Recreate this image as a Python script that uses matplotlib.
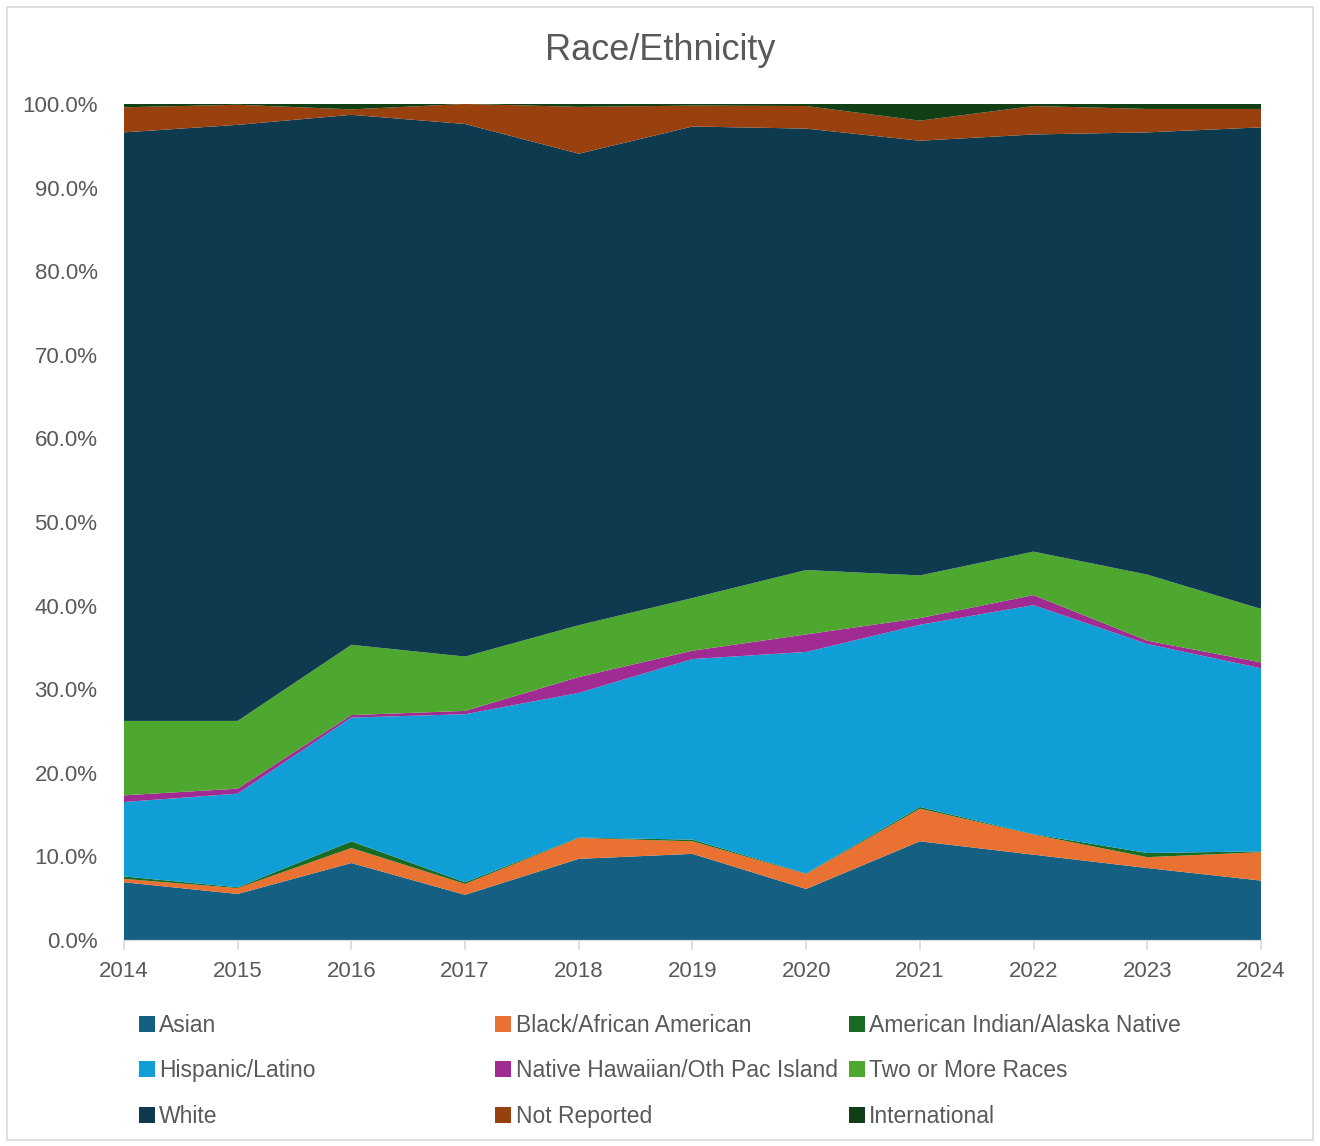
import matplotlib.pyplot as plt
from matplotlib.patches import Patch, Rectangle
from matplotlib.ticker import PercentFormatter

plt.rcParams['font.family'] = ['Liberation Sans', 'DejaVu Sans']

# Share of students by race/ethnicity (percent)
years = [2014, 2015, 2016, 2017, 2018, 2019, 2020, 2021, 2022, 2023, 2024]
asian = [6.9, 5.5, 9.2, 5.4, 9.7, 10.3, 6.1, 11.8, 10.2, 8.6, 7.1]
black = [0.4, 0.7, 1.8, 1.3, 2.5, 1.5, 1.8, 3.9, 2.4, 1.3, 3.4]
aian = [0.3, 0.1, 0.8, 0.2, 0.05, 0.2, 0.05, 0.2, 0.05, 0.5, 0.1]
hispanic = [8.9, 11.2, 14.8, 20.1, 17.3, 21.6, 26.5, 21.8, 27.4, 25.0, 21.9]
nhpi = [0.8, 0.6, 0.3, 0.4, 1.9, 1.0, 2.1, 0.8, 1.2, 0.4, 0.7]
two_more = [8.9, 8.1, 8.4, 6.5, 6.2, 6.3, 7.7, 5.1, 5.2, 7.9, 6.4]
white = [70.4, 71.3, 63.4, 63.7, 56.4, 56.4, 52.8, 52.0, 49.9, 52.9, 57.6]
not_reported = [3.0, 2.4, 0.65, 2.4, 5.6, 2.5, 2.7, 2.4, 3.4, 2.8, 2.2]
international = [0.4, 0.1, 0.65, 0.0, 0.4, 0.2, 0.3, 2.0, 0.3, 0.6, 0.6]

labels = ["Asian", "Black/African American", "American Indian/Alaska Native",
          "Hispanic/Latino", "Native Hawaiian/Oth Pac Island", "Two or More Races",
          "White", "Not Reported", "International"]
colors = ["#156082", "#E97132", "#196B24", "#0F9ED5", "#A02B93", "#4EA72E",
          "#0E3A4F", "#98410F", "#103F15"]
series = [asian, black, aian, hispanic, nhpi, two_more, white, not_reported, international]
series = [[v / 100 for v in s] for s in series]

fig = plt.figure(figsize=(13.2, 11.46), dpi=100)
fig.patches.append(Rectangle((0.005, 0.005), 0.99, 0.989, transform=fig.transFigure,
                             fill=False, edgecolor="#d9d9d9", linewidth=1.2))
ax = fig.add_axes([0.0939, 0.1798, 0.8614, 0.7295])

ax.stackplot(years, *series, colors=colors, labels=labels, linewidth=0)

ax.set_xlim(2014, 2024)
ax.set_ylim(0, 1)
ax.set_xticks(years)
ax.set_yticks([i / 10 for i in range(11)])
ax.yaxis.set_major_formatter(PercentFormatter(1, decimals=1))
for s in ["top", "right", "left"]:
    ax.spines[s].set_visible(False)
ax.spines["bottom"].set_color("#d9d9d9")
ax.tick_params(axis="x", colors="#d9d9d9", length=7, width=1.2, labelcolor="#595959",
               labelsize=16, pad=8)
ax.tick_params(axis="y", length=0, labelcolor="#595959", labelsize=16, pad=19)

fig.text(0.5, 0.956, "Race/Ethnicity", ha="center", va="center", fontsize=26, color="#595959")

# legend: three columns placed by hand, filled row by row
col_x = [0.098, 0.368, 0.636]
for c in range(3):
    idx = [c, c + 3, c + 6]
    handles = [Patch(facecolor=colors[i], edgecolor="none") for i in idx]
    leg = fig.legend(handles, [labels[i] for i in idx], loc="upper left",
                     bbox_to_anchor=(col_x[c], 0.1235), frameon=False, fontsize=16.5,
                     labelcolor="#595959", handlelength=0.7, handleheight=0.7,
                     handletextpad=0.2, labelspacing=0.98, borderaxespad=0)

fig.savefig("out.png", dpi=100)
